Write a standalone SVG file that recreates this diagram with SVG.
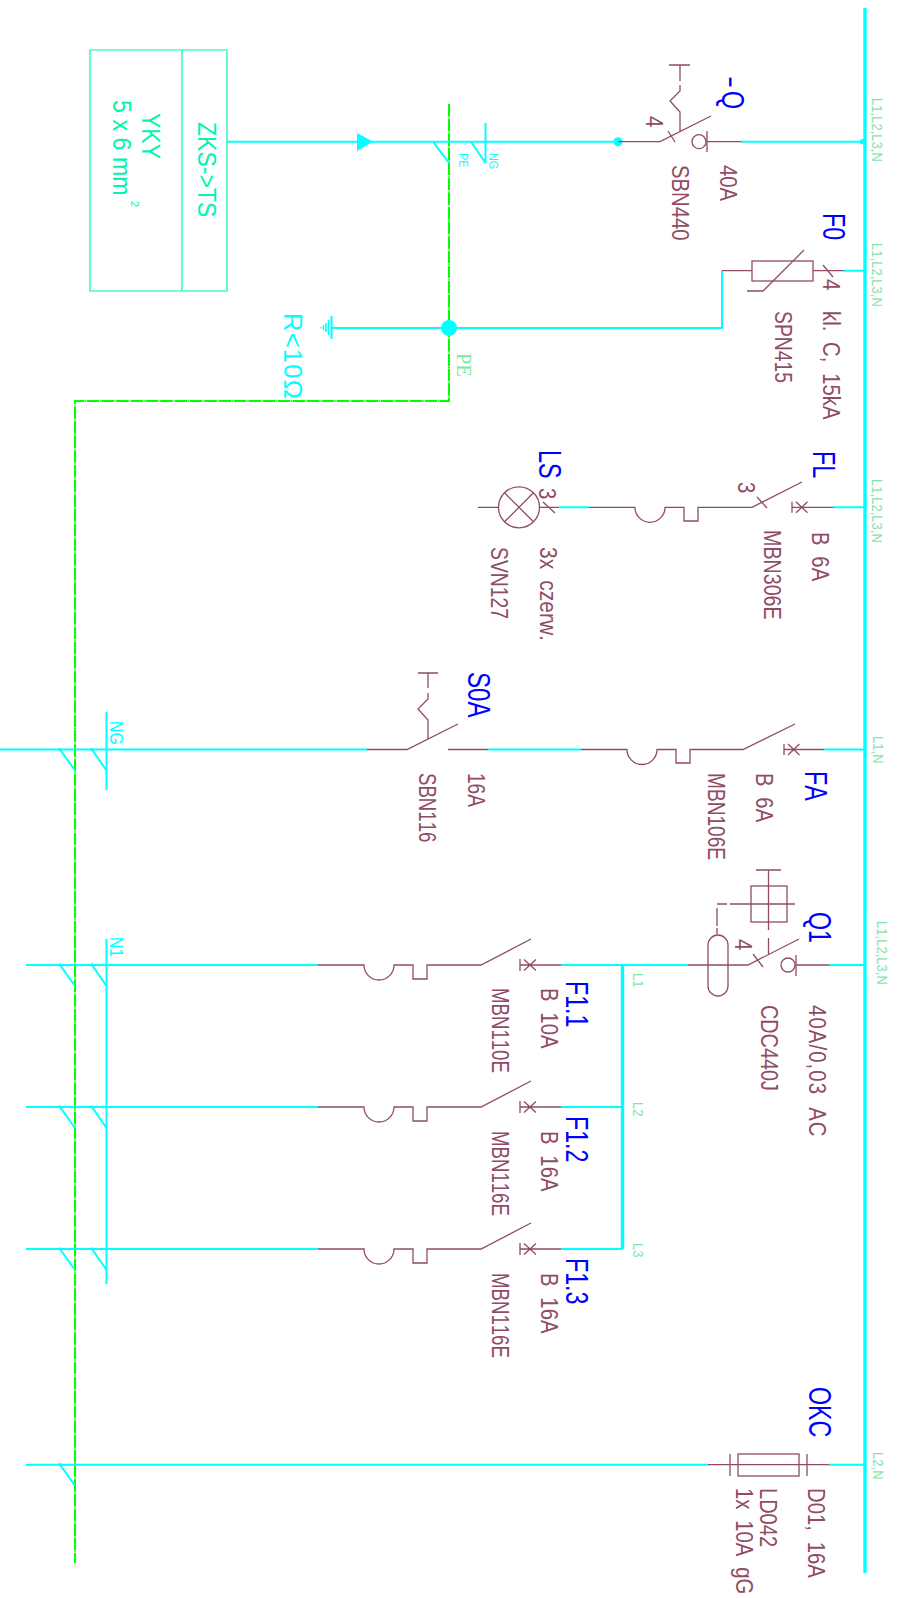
<svg xmlns="http://www.w3.org/2000/svg" xmlns:xlink="http://www.w3.org/1999/xlink" width="899" height="1598" viewBox="0 0 899 1598">
<style>
text{font-family:"Liberation Sans",Arial,sans-serif;font-kerning:none}
.b{fill:#0000ff;font-size:31px}
.m{fill:#904c64;font-size:23.3px;word-spacing:6px}
.g{fill:#7fe5a8;font-size:15px}
.t{fill:#00f5b0;font-size:25.6px}
.c{fill:#00ffff}
.s{fill:none;stroke:#904c64;stroke-width:1.3}
.w{fill:none;stroke:#00ffff;stroke-width:2}
.bus{fill:none;stroke:#00ffff;stroke-width:3.4}
.pe{fill:none;stroke:#00ff00;stroke-width:2;stroke-dasharray:12.5 .7 .8 .7}
.box{fill:none;stroke:#00f5b0;stroke-width:1.2}
.d{fill:#00ffff}
</style>
<defs>
<g id="breakerX" class="s"><path d="M0-5.500V5.500M4 -5.500 15.500 5.500M4 5.500 15.500 -5.500"/></g>
<g id="tickPair" class="w"><path d="M60 0 75 21M92 0 106.500 21"/><circle cx="60" cy="0" r="1.700" class="d" stroke="none"/><circle cx="92" cy="0" r="1.700" class="d" stroke="none"/></g>
<g id="tickOne" class="w"><path d="M60 0 75 21"/><circle cx="60" cy="0" r="1.700" class="d" stroke="none"/></g>
<g id="branch" class="s"><path d="M318 0H364A15 15 0 0 0 394 0H413V14H427V0H481L531-26M520-6V6M524-5.500 536 5.500M524 5.500 536-5.500M520 0H561"/></g>
</defs>
<g id="connectors">
<path class="bus" d="M865 8V1573"/>
<path class="bus" d="M622.500 965V1249"/>
<path class="pe" d="M449 104V401H75V1563"/>
<path class="w" d="M227 141.700H618M741 141.700H865"/>
<path class="w" d="M844 270.700H865M722 270.700V328H332"/>
<path class="w" d="M833 507.300H865M559 507.300H589"/>
<path class="w" d="M0 749.500H367M488 749.500H581M824 749.500H865"/>
<path class="w" d="M829 965H865M561 965H688M561 1107H622.700M561 1249H622.700"/>
<path class="w" d="M26 965H318M26 1107H318M26 1249H318"/>
<path class="w" d="M26 1464.700H708M829 1464.700H865"/>
<path class="w" d="M433 141.700 449 163M471 141.700 485.500 163M485.500 123V163"/>
<path class="w" d="M106.500 712V790M106.500 939V1284"/>
<use xlink:href="#tickPair" href="#tickPair" y="749.500"/>
<use xlink:href="#tickPair" href="#tickPair" y="965"/>
<use xlink:href="#tickPair" href="#tickPair" y="1107"/>
<use xlink:href="#tickPair" href="#tickPair" y="1249"/>
<use xlink:href="#tickOne" href="#tickOne" y="1464.700"/>
<circle class="d" cx="618" cy="141.700" r="4.500"/>
<circle class="d" cx="862.500" cy="141.700" r="2.600"/>
<circle class="d" cx="449" cy="328" r="8"/>
<polygon class="d" points="357,133 373,141.700 357,151"/>
</g>
<g id="cable">
<path class="box" d="M90 50H227V291H90ZM182 50V291"/>
<text class="t" transform="translate(198 122) rotate(90) scale(.9 1)">ZKS-&gt;TS</text>
<text class="t" transform="translate(142 113) rotate(90) scale(.9 1)">YKY</text>
<text class="t" transform="translate(113 100) rotate(90) scale(.91 1)">5 x 6 mm</text>
<text class="t" style="font-size:11px" transform="translate(131 201) rotate(90)">2</text>
</g>
<g id="pe-label">
<text style="font-family:'Liberation Serif',serif;font-size:22px;fill:#7fe5a8" transform="translate(457 353) rotate(90) scale(.93 1)">PE</text>
<text class="c" style="font-size:12.500px" transform="translate(459 153) rotate(90) scale(.87 1)">PE</text>
<text class="c" style="font-size:12.500px" transform="translate(489 153) rotate(90) scale(.87 1)">NG</text>
</g>
<g id="earth">
<path class="w" d="M331.500 316V339"/>
<path class="s" style="stroke:#00ffff;stroke-width:1.500" d="M328.500 320V335M326 323V332M323.500 325V330M321 327V328.500"/>
<text class="c" style="font-size:25.600px;letter-spacing:1.200px" transform="translate(284 313) rotate(90)">R&lt;10Ω</text>
</g>
<g id="Q">
<path class="s" d="M618 141.700H660L711 116M668 131 675 142M680 131V112L670 101 680 91V85M680 81V65M669 65H690M707 131V152M707 141.700H741"/>
<circle class="s" cx="699" cy="141.700" r="7"/>
<text class="b" transform="translate(722 76) rotate(90) scale(.75 1)"><tspan textLength="16" lengthAdjust="spacingAndGlyphs">-</tspan><tspan dx="4">Q</tspan></text>
<text class="m" transform="translate(646 116) rotate(90) scale(.87 1)">4</text>
<text class="m" transform="translate(720 165) rotate(90) scale(.87 1)">40A</text>
<text class="m" transform="translate(672 165) rotate(90) scale(.87 1)">SBN440</text>
<text class="g" transform="translate(872 98) rotate(90) scale(.87 1)">L1,L2,L3,N</text>
</g>
<g id="F0">
<path class="s" d="M722 270.700H752M813 270.700H844M804 250 763 291H747M823 265 833 277"/>
<rect class="s" x="752" y="261" width="61" height="20"/>
<text class="b" transform="translate(823 213) rotate(90) scale(.75 1)">F0</text>
<text class="m" transform="translate(823 279) rotate(90) scale(.87 1)">4</text>
<text class="m" transform="translate(775 311) rotate(90) scale(.83 1)">SPN415</text>
<text class="m" transform="translate(823 311) rotate(90) scale(.87 1)">kl. C, 15kA</text>
<text class="g" transform="translate(872 243) rotate(90) scale(.87 1)">L1,L2,L3,N</text>
</g>
<g id="FL">
<path class="s" d="M589 507.300H635A15 15 0 0 0 665 507.300H684V521H698V507.300H752L802 482M757 497 767 508"/>
<use xlink:href="#breakerX" href="#breakerX" x="792" y="507.300"/>
<path class="s" d="M792 507.300H833"/>
<text class="b" transform="translate(813 451) rotate(90) scale(.75 1)">FL</text>
<text class="m" transform="translate(738 482) rotate(90) scale(.87 1)">3</text>
<text class="m" transform="translate(812 532) rotate(90) scale(.87 1)">B 6A</text>
<text class="m" transform="translate(764 530) rotate(90) scale(.845 1)">MBN306E</text>
<text class="g" transform="translate(872 479) rotate(90) scale(.87 1)">L1,L2,L3,N</text>
</g>
<g id="LS">
<circle class="s" cx="519" cy="507.300" r="20.500"/>
<path class="s" d="M504.500 492.800 533.500 521.800M504.500 521.800 533.500 492.800M478 507.300H498.500M539.500 507.300H559M543 502 555 513"/>
<text class="b" transform="translate(539 450) rotate(90) scale(.75 1)">LS</text>
<text class="m" transform="translate(539 488) rotate(90) scale(.87 1)">3</text>
<text class="m" transform="translate(540 547) rotate(90) scale(.9 1)">3x czerw.</text>
<text class="m" transform="translate(491 547) rotate(90) scale(.83 1)">SVN127</text>
</g>
<g id="S0A">
<path class="s" d="M367 749.500H407L458 724M428 739V720L418 709 428 699V693M428 688V673M418 673H438M448 749.500H488"/>
<text class="b" transform="translate(468 672) rotate(90) scale(.78 1)">S0A</text>
<text class="m" transform="translate(419 773) rotate(90) scale(.8 1)">SBN116</text>
<text class="m" transform="translate(468 773) rotate(90) scale(.82 1)">16A</text>
<text class="c" style="font-size:18px" transform="translate(110 721) rotate(90) scale(.88 1)">NG</text>
</g>
<g id="FA">
<path class="s" d="M581 749.500H627A15 15 0 0 0 657 749.500H676V763H690V749.500H743L795 724"/>
<use xlink:href="#breakerX" href="#breakerX" x="784" y="749.500"/>
<path class="s" d="M784 749.500H824"/>
<text class="b" transform="translate(805 771) rotate(90) scale(.75 1)">FA</text>
<text class="m" transform="translate(756 773) rotate(90) scale(.87 1)">B 6A</text>
<text class="m" transform="translate(708 773) rotate(90) scale(.82 1)">MBN106E</text>
<text class="g" transform="translate(873 736) rotate(90) scale(.87 1)">L1,N</text>
</g>
<g id="Q1">
<path class="s" d="M688 965H748L799 939M753 954 763 967M768.500 954V938M768.500 930V870M756 870H781M730 904H795M717 904H727M717 908V926M717 928V934M796 955V976M796 965H829"/>
<circle class="s" cx="788" cy="965" r="7"/>
<rect class="s" x="751" y="886" width="36" height="36"/>
<rect class="s" x="708" y="935" width="20" height="61" rx="10"/>
<text class="b" transform="translate(809 912) rotate(90) scale(.75 1)">Q1</text>
<text class="m" transform="translate(735 939) rotate(90) scale(.87 1)">4</text>
<text class="m" style="letter-spacing:1.300px" transform="translate(809 1005) rotate(90) scale(.87 1)">40A/0,03 AC</text>
<text class="m" transform="translate(761 1005) rotate(90) scale(.85 1)">CDC440J</text>
<text class="g" transform="translate(877 921) rotate(90) scale(.87 1)">L1,L2,L3,N</text>
<text class="g" transform="translate(633 973) rotate(90) scale(.87 1)">L1</text>
<text class="g" transform="translate(633 1102) rotate(90) scale(.87 1)">L2</text>
<text class="g" transform="translate(633 1243) rotate(90) scale(.87 1)">L3</text>
<text class="c" style="font-size:18px" transform="translate(110 937) rotate(90) scale(.88 1)">N1</text>
</g>
<g id="F1.1">
<use xlink:href="#branch" href="#branch" y="965"/>
<text class="b" transform="translate(566 981) rotate(90) scale(.75 1)">F1.1</text>
<text class="m" transform="translate(541 988) rotate(90) scale(.87 1)">B 10A</text>
<text class="m" transform="translate(492 988) rotate(90) scale(.8 1)">MBN110E</text>
</g>
<g id="F1.2">
<use xlink:href="#branch" href="#branch" y="1107"/>
<text class="b" transform="translate(566 1116) rotate(90) scale(.75 1)">F1.2</text>
<text class="m" transform="translate(541 1131) rotate(90) scale(.87 1)">B 16A</text>
<text class="m" transform="translate(492 1131) rotate(90) scale(.8 1)">MBN116E</text>
</g>
<g id="F1.3">
<use xlink:href="#branch" href="#branch" y="1249"/>
<text class="b" transform="translate(566 1258) rotate(90) scale(.75 1)">F1.3</text>
<text class="m" transform="translate(541 1273) rotate(90) scale(.87 1)">B 16A</text>
<text class="m" transform="translate(492 1273) rotate(90) scale(.8 1)">MBN116E</text>
</g>
<g id="OKC">
<path class="s" d="M708 1464.700H829M730 1454V1476M807 1454V1476"/>
<rect class="s" x="738" y="1454" width="61" height="22"/>
<text class="b" transform="translate(809 1387) rotate(90) scale(.75 1)">OKC</text>
<text class="m" transform="translate(808 1488) rotate(90) scale(.87 1)">D01, 16A</text>
<text class="m" transform="translate(760 1488) rotate(90) scale(.86 1)">LD042</text>
<text class="m" transform="translate(736 1488) rotate(90) scale(.87 1)">1x 10A gG</text>
<text class="g" transform="translate(873 1452) rotate(90) scale(.87 1)">L2,N</text>
</g>
</svg>
